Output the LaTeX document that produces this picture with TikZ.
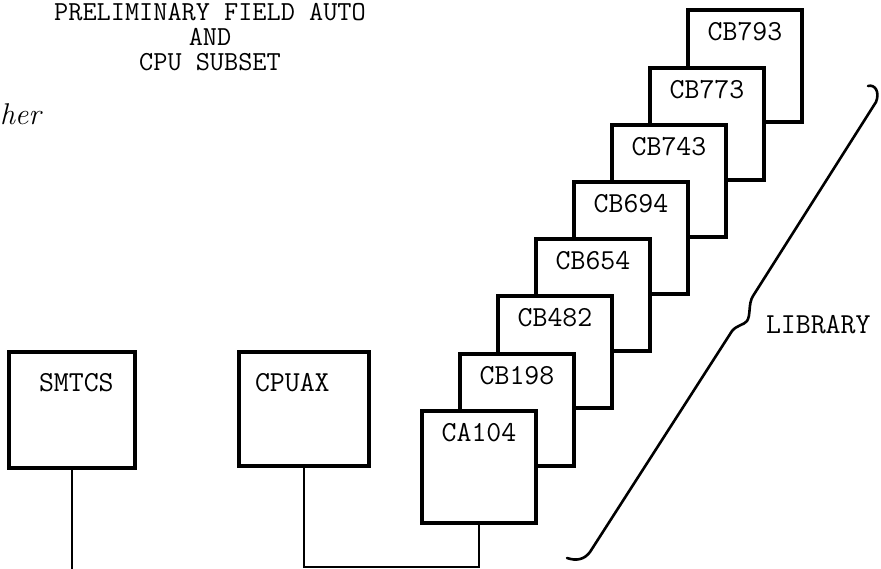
\documentclass[tikz,border=0pt]{standalone}
\usetikzlibrary{positioning}
\begin{document}
\begin{tikzpicture}[x=1pt,y=-1pt,
  card/.style={draw=black,fill=white,line width=4pt,inner sep=0pt,outer sep=0pt,anchor=north west,minimum width=114pt,minimum height=112pt},
  unit/.style={card,minimum width=128pt,minimum height=115pt},
  tag/.style={inner sep=0pt,outer sep=0pt,text=black,font=\ttfamily\fontsize{29}{25}\selectfont},
  wire/.style={draw=black,line width=2.2pt}]
\path[use as bounding box] (0,0) rectangle (881,569);
\node[tag,anchor=north,align=center,font=\ttfamily\fontsize{27.5}{25}\selectfont] (title) at (210,3.5) {PRELIMINARY FIELD AUTO\\AND\\CPU SUBSET};
\node[inner sep=0pt,outer sep=0pt,anchor=base west,font=\itshape\fontsize{30}{30}\selectfont] (scrawl) at (0,125) {her};
\node[unit,minimum width=126pt,minimum height=116pt] (smtcs) at (9,352) {};
\node[tag,below right=21pt and 30pt of smtcs.north west] (smtcst) {SMTCS};
\node[unit,minimum width=130pt,minimum height=114pt] (cpuax) at (239,352) {};
\node[tag,below right=21pt and 16pt of cpuax.north west] (cpuaxt) {CPUAX};
\node[card] (cb793) at (688,10) {};
\node[tag,below=12pt of cb793.north] (cb793t) {CB793};
\node[card] (cb773) at (650,68) {};
\node[tag,below=12pt of cb773.north] (cb773t) {CB773};
\node[card] (cb743) at (612,125) {};
\node[tag,below=12pt of cb743.north] (cb743t) {CB743};
\node[card] (cb694) at (574,182) {};
\node[tag,below=12pt of cb694.north] (cb694t) {CB694};
\node[card] (cb654) at (536,239) {};
\node[tag,below=12pt of cb654.north] (cb654t) {CB654};
\node[card] (cb482) at (498,296) {};
\node[tag,below=12pt of cb482.north] (cb482t) {CB482};
\node[card] (cb198) at (460,354) {};
\node[tag,below=12pt of cb198.north] (cb198t) {CB198};
\node[card] (ca104) at (422,411) {};
\node[tag,below=12pt of ca104.north] (ca104t) {CA104};
\coordinate (bus) at (0,567);
\coordinate (edge) at (0,571);
\draw[wire] (smtcs.south) -- (smtcs.south |- edge);
\draw[wire] (cpuax.south) |- (ca104.south |- bus) -- (ca104.south);
\draw[line width=2.6pt,line cap=round,line join=round] (868,86) .. controls (875,84) and (880,92) .. (876,102) -- (753,296) .. controls (748,304) and (751,315) .. (747,321) .. controls (744,325) and (737,325) .. (732,331) -- (590,552) .. controls (584,560) and (576,561) .. (567,558);
\node[tag,anchor=base west] (library) at (766,334) {LIBRARY};
\end{tikzpicture}
\end{document}
